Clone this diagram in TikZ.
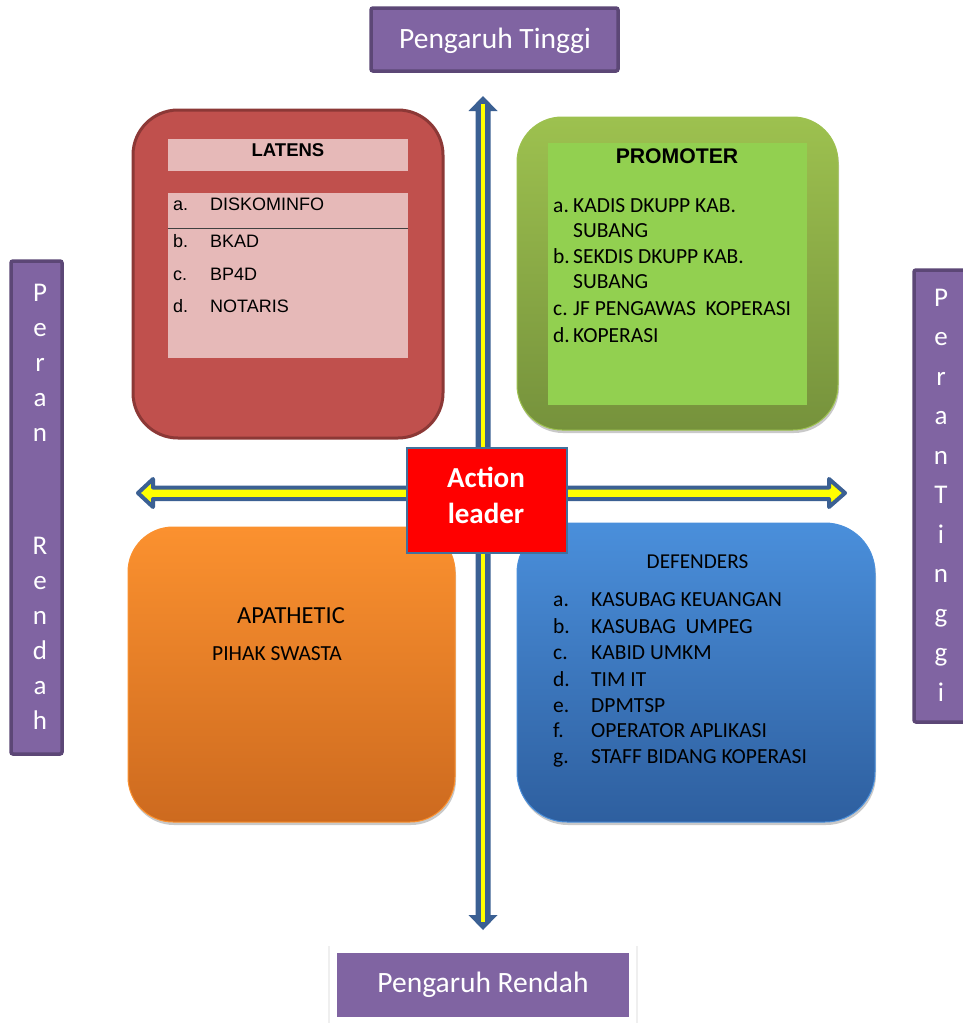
\documentclass[tikz,border=0pt]{standalone}
\usepackage{fontspec}
\setmainfont{Carlito}
\newfontfamily\arialf{Liberation Sans}
\usetikzlibrary{shadows}
\definecolor{purp}{HTML}{8064A2}
\definecolor{purpdark}{HTML}{5C4776}
\definecolor{latred}{HTML}{C0504D}
\definecolor{latdark}{HTML}{8C3836}
\definecolor{latpink}{HTML}{E6B9B8}
\definecolor{promtop}{HTML}{9DC14F}
\definecolor{prombot}{HTML}{76923C}
\definecolor{prominner}{HTML}{92D050}
\definecolor{apatop}{HTML}{FB912F}
\definecolor{apabot}{HTML}{CD6A1F}
\definecolor{deftop}{HTML}{4A8FDB}
\definecolor{defbot}{HTML}{2E5F9F}
\definecolor{arrblue}{HTML}{3B6093}
\definecolor{arryel}{HTML}{FFFF00}
\definecolor{actred}{HTML}{FF0000}
\definecolor{actedge}{HTML}{41719C}
\tikzset{
  softshadow/.style={drop shadow={shadow xshift=1pt, shadow yshift=-3pt, opacity=0.35, fill=black!60}},
  quad/.style={rounded corners=45pt, inner sep=0pt},
  panel/.style={fill=latpink, inner sep=0pt},
  purplebox/.style={fill=purp, draw=purpdark, line width=3.5pt, rounded corners=2pt, inner sep=0pt},
  wtext/.style={text=white, anchor=base, inner sep=0pt, font=\fontsize{29.5}{34}\selectfont},
  letter/.style={text=white, anchor=base, inner sep=0pt, font=\fontsize{27}{32}\selectfont},
  aitem/.style={anchor=base west, inner sep=0pt, font=\arialf\fontsize{18}{21}\selectfont},
  citem/.style={anchor=base west, inner sep=0pt, font=\fontsize{21.5}{25}\selectfont},
  acttext/.style={text=white, anchor=base, inner sep=0pt, font=\bfseries\fontsize{29}{34}\selectfont},
}
\begin{document}
\begin{tikzpicture}[x=1pt,y=-1pt]
\useasboundingbox (0,0) rectangle (963,1023);
\fill[white] (0,0) rectangle (963,1023);

% ---------- axis arrows ----------
\coordinate (vtop) at (483,96);
\coordinate (vbot) at (483,930);
\fill[arrblue] (vtop) -- (497.5,111) -- (490.5,111) -- (490.5,915) -- (497.5,915)
  -- (vbot) -- (468.5,915) -- (475.5,915) -- (475.5,111) -- (468.5,111) -- cycle;
\draw[arryel, line width=3.5pt] ([yshift=-8pt]vtop) -- ([yshift=8pt]vbot);

\coordinate (hleft) at (138,493);
\coordinate (hright) at (845,493);
\draw[arrblue, line width=4pt, fill=arryel, line join=round]
  (hleft) -- (153,479) -- (153,487.5) -- (829,487.5) -- (829,479) -- (hright)
  -- (829,507) -- (829,499) -- (153,499) -- (153,507) -- cycle;

% ---------- LATENS ----------
\node[quad, fill=latred, draw=latdark, line width=3pt,
      minimum width=310pt, minimum height=328pt] (latens) at (288,274) {};
\node[panel, minimum width=240pt, minimum height=32pt] (lathead) at (288,155) {};
\node[panel, minimum width=240pt, minimum height=165pt] (latlist) at (288,275.5) {};
\draw[black!75, line width=1pt] (latlist.west |- 0,228) -- (latlist.east |- 0,228);
\node[anchor=base, inner sep=0pt, font=\arialf\bfseries\fontsize{18.5}{21}\selectfont] (latt) at (288,156) {LATENS};
\node[aitem] (la) at (173,210) {a.};  \node[aitem] (lat1) at (210,210) {DISKOMINFO};
\node[aitem] (lb) at (173,247) {b.};  \node[aitem] (lat2) at (210,247) {BKAD};
\node[aitem] (lc) at (173,280) {c.};  \node[aitem] (lat3) at (210,280) {BP4D};
\node[aitem] (ld) at (173,312) {d.};  \node[aitem] (lat4) at (210,312) {NOTARIS};

% ---------- PROMOTER ----------
\node[quad, softshadow, top color=promtop, bottom color=prombot, draw=promtop, line width=1pt,
      minimum width=321pt, minimum height=313pt] (promoter) at (677.5,273.5) {};
\node[fill=prominner, inner sep=0pt, minimum width=259pt, minimum height=262pt] (prompanel) at (677.5,274) {};
\node[anchor=base, inner sep=0pt, font=\arialf\bfseries\fontsize{21.2}{25}\selectfont] (promt) at (677,163) {PROMOTER};
\node[citem] (pa) at (553,212) {a.}; \node[citem] (pro1) at (573,212) {KADIS DKUPP KAB.};
\node[citem] (pro1b) at (573,237) {SUBANG};
\node[citem] (pb) at (553,263) {b.}; \node[citem] (pro2) at (573,263) {SEKDIS DKUPP KAB.};
\node[citem] (pro2b) at (573,288) {SUBANG};
\node[citem] (pc) at (553,315) {c.}; \node[citem] (pro3) at (573,315) {JF PENGAWAS\ \ KOPERASI};
\node[citem] (pd) at (553,342) {d.}; \node[citem] (pro4) at (573,342) {KOPERASI};

% ---------- APATHETIC ----------
\node[quad, softshadow, top color=apatop, bottom color=apabot, draw=apatop, line width=1pt,
      minimum width=327pt, minimum height=295pt] (apathetic) at (291.5,674.5) {};
\node[anchor=base, inner sep=0pt, font=\fontsize{24.5}{28}\selectfont] (apat) at (291,623) {APATHETIC};
\node[citem] (apa1) at (212,660) {PIHAK SWASTA};

% ---------- DEFENDERS ----------
\node[quad, rounded corners=50pt, softshadow, top color=deftop, bottom color=defbot, draw=deftop, line width=1pt,
      minimum width=358pt, minimum height=299pt] (defenders) at (696,672.5) {};
\node[anchor=base, inner sep=0pt, font=\fontsize{21.2}{25}\selectfont] (deft) at (697.5,568) {DEFENDERS};
\node[citem] (da) at (553,606) {a.}; \node[citem] (def1) at (591,606) {KASUBAG KEUANGAN};
\node[citem] (db) at (553,633) {b.}; \node[citem] (def2) at (591,633) {KASUBAG\ \ UMPEG};
\node[citem] (dc) at (553,659) {c.}; \node[citem] (def3) at (591,659) {KABID UMKM};
\node[citem] (dd) at (553,686) {d.}; \node[citem] (def4) at (591,686) {TIM IT};
\node[citem] (de) at (553,712) {e.}; \node[citem] (def5) at (591,712) {DPMTSP};
\node[citem] (df) at (553,737) {f.}; \node[citem] (def6) at (591,737) {OPERATOR APLIKASI};
\node[citem] (dg) at (553,763) {g.}; \node[citem] (def7) at (591,763) {STAFF BIDANG KOPERASI};

% ---------- Action leader ----------
\node[fill=actred, draw=actedge, line width=2pt, inner sep=0pt,
      minimum width=160pt, minimum height=105pt] (action) at (487,500.5) {};
\node[acttext] (act1) at (486,487) {Action};
\node[acttext] (act2) at (486,523) {leader};

% ---------- Pengaruh Tinggi ----------
\node[purplebox, minimum width=247pt, minimum height=63pt] (ptinggi) at (494.5,39.5) {};
\node[wtext] (ptt) at (495,48) {Pengaruh Tinggi};

% ---------- Pengaruh Rendah ----------
\node[fill=white, inner sep=0pt, minimum width=306pt, minimum height=82pt,
      drop shadow={shadow xshift=0pt, shadow yshift=-1pt, shadow scale=1.01, opacity=0.12, fill=black!50}] (prendahbg) at (483,986) {};
\node[fill=purp, inner sep=0pt, minimum width=292pt, minimum height=64pt] (prendah) at (483,985) {};
\node[wtext] (prt) at (483,992) {Pengaruh Rendah};

% ---------- Peran Rendah (left) ----------
\node[purplebox, minimum width=51pt, minimum height=493pt] (peranrendah) at (36.5,507.5) {};
\foreach \ch [count=\i from 0] in {P,e,r,a,n}
  \node[letter] (prl\i) at (40,301+35*\i) {\ch};
\foreach \ch [count=\i from 0] in {R,e,n,d,a,h}
  \node[letter] (prr\i) at (40,554+35*\i) {\ch};

% ---------- Peran Tinggi (right) ----------
\node[purplebox, minimum width=58pt, minimum height=452pt] (perantinggi) at (943,496) {};
\foreach \ch [count=\i from 0] in {P,e,r,a,n,T,i,n,g,g,i}
  \node[letter] (pt\i) at (941,306+39.5*\i) {\ch};
\end{tikzpicture}
\end{document}
